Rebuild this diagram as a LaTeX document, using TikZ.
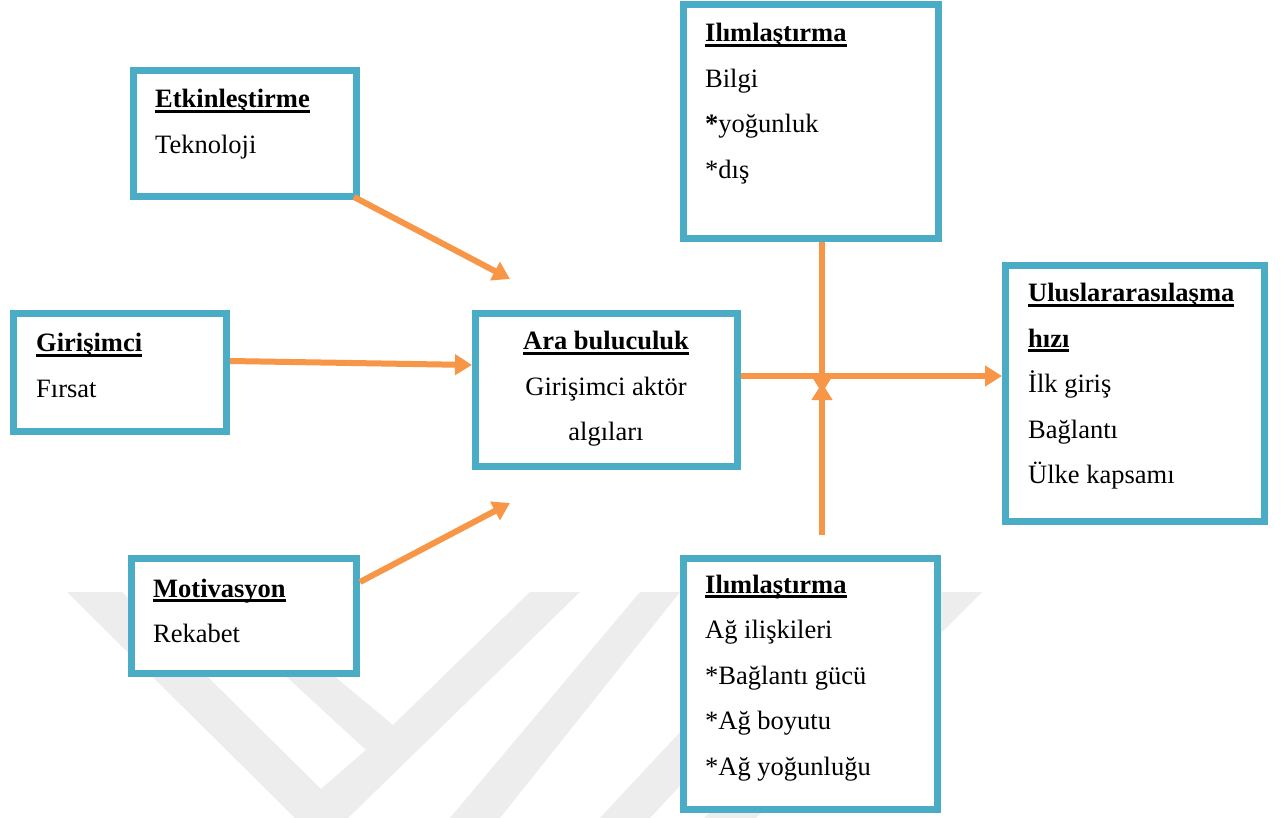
\documentclass[tikz,border=0pt]{standalone}
\usepackage{fontspec}
\setmainfont{Liberation Serif}
\usetikzlibrary{arrows.meta}
\definecolor{boxblue}{HTML}{4BACC6}
\definecolor{linkorange}{HTML}{F79646}
\definecolor{emblemgray}{HTML}{EDEDED}
% bold heading with a flat underline at a fixed depth
\newcommand\headline[1]{\setbox0\hbox{\bfseries #1}\rlap{\vrule height -2pt depth 5pt width \wd0}\box0}
% stacks of lines whose first baseline is the reference point
\newcommand\leftlines[1]{\vtop{\baselineskip=45.5pt\lineskip=0pt\halign{##\hfil\cr#1\crcr}}}
\newcommand\centerlines[1]{\vtop{\baselineskip=45.5pt\lineskip=0pt\halign{\hfil##\hfil\cr#1\crcr}}}
\tikzset{
  boxframe/.style={draw=boxblue, line width=7pt, fill=white, rectangle,
    inner sep=0pt, outer sep=3.5pt, anchor=north west},
  boxtext/.style={anchor=base west, inner sep=0pt, font=\fontsize{26.5}{45.5}\selectfont},
  link/.style={draw=linkorange, line width=6pt,
    -{Triangle[length=17pt,width=20pt]}},
  emblem/.style={fill=emblemgray, draw=none}
}
\begin{document}
\begin{tikzpicture}[x=1pt, y=-1pt]
\useasboundingbox (0,0) rectangle (1283,818);
\fill[white] (0,0) rectangle (1283,818);

% faint background emblem
\begin{scope}
\clip (0,0) rectangle (1283,818);
\fill[emblem] (67,592) -- (122,592) -- (321,789) -- (366,750) -- (290,680)
  -- (225,620) -- (267,620) -- (393,725) -- (530,592) -- (580,592)
  -- (348,818) -- (295,818) -- cycle;
\fill[emblem] (450,818) -- (500,818) -- (680,592) -- (640,592) -- cycle;
\fill[emblem] (600,818) -- (650,818) -- (760,700) -- (710,700) -- cycle;
\fill[emblem] (930,592) -- (982,592) -- (756,818) -- (704,818) -- cycle;
\end{scope}

% boxes
\node[boxframe, minimum width=223pt, minimum height=126pt] (etk) at (130,67) {};
\node[boxframe, minimum width=213pt, minimum height=118pt] (gir) at (10,310) {};
\node[boxframe, minimum width=225pt, minimum height=115pt] (mot) at (128,555) {};
\node[boxframe, minimum width=262pt, minimum height=153pt] (ara) at (472,310) {};
\node[boxframe, minimum width=255pt, minimum height=234pt] (ilimA) at (680,1) {};
\node[boxframe, minimum width=259pt, minimum height=256pt] (ulus) at (1002,262) {};
\node[boxframe, minimum width=254pt, minimum height=251pt] (ilimB) at (680,555) {};

% box texts
\node[boxtext] (etkT) at (155,108) {\leftlines{\headline{Etkinleştirme}\cr Teknoloji}};
\node[boxtext] (girT) at (36,352) {\leftlines{\headline{Girişimci}\cr Fırsat}};
\node[boxtext] (motT) at (153,597) {\leftlines{\headline{Motivasyon}\cr Rekabet}};
\node[boxtext, anchor=base] (araT) at (606,350)
  {\centerlines{\headline{Ara buluculuk}\cr Girişimci aktör\cr algıları}};
\node[boxtext] (ilimAT) at (705,42)
  {\leftlines{\headline{Ilımlaştırma}\cr Bilgi\cr \textbf{*}yoğunluk\cr *dış}};
\node[boxtext] (ulusT) at (1028,302)
  {\leftlines{\headline{Uluslararasılaşma}\cr \headline{hızı}\cr İlk giriş\cr Bağlantı\cr Ülke kapsamı}};
\node[boxtext] (ilimBT) at (705,593)
  {\leftlines{\headline{Ilımlaştırma}\cr Ağ ilişkileri\cr *Bağlantı gücü\cr *Ağ boyutu\cr *Ağ yoğunluğu}};

% free arrow ends and the crossing point
\coordinate (etkEnd) at (510,279);
\coordinate (motEnd) at (510,503);
\coordinate (cross) at (822,376);

% connectors
\draw[link] ([shift={(-6,-3)}]etk.south east) -- (etkEnd);
\draw[link] ([yshift=11.5pt]gir.east) -- ([yshift=25pt]ara.west);
\draw[link] ([yshift=34pt]mot.east) -- (motEnd);
\draw[link] ([yshift=14pt]ara.east) -- ([yshift=14pt]ara.east -| ulus.west);
\draw[link] (cross |- ilimA.south) -- ([yshift=-17pt]cross);
\draw[link] ([yshift=20pt]cross |- ilimB.north) -- ([yshift=-7pt]cross);
\end{tikzpicture}
\end{document}
